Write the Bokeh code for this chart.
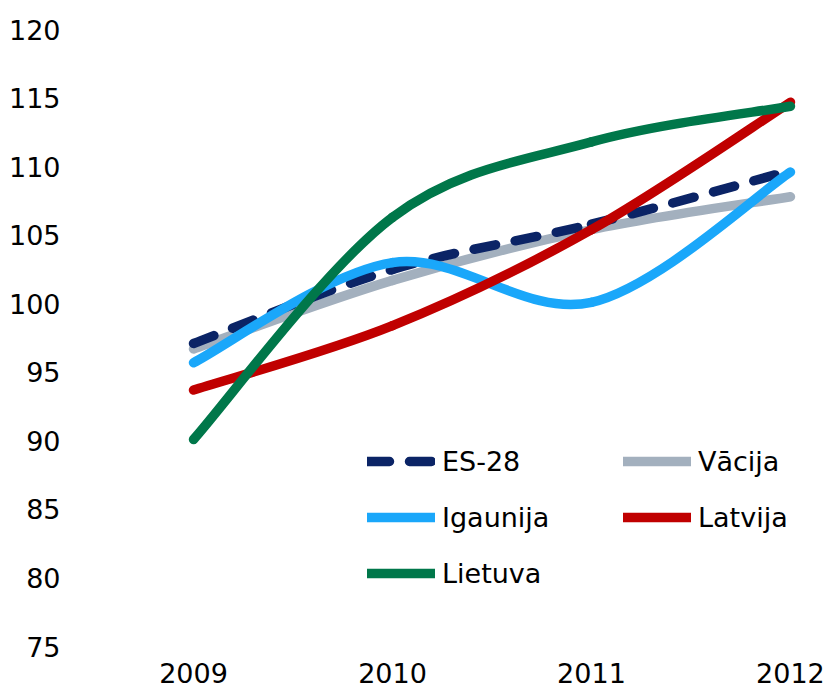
from bokeh.plotting import figure
from bokeh.models import Legend, LegendItem, FixedTicker, Range1d
from bokeh.embed import file_html
from bokeh.resources import INLINE

# ---- data ----
years = [2009, 2010, 2011, 2012]
es28 = [97.1, 102.5, 105.8, 109.7]
vacija = [96.7, 101.7, 105.4, 107.8]
igaunija = [95.7, 103.0, 100.1, 109.6]
latvija = [93.7, 98.4, 105.4, 114.7]
lietuva = [90.1, 106.3, 111.8, 114.4]
y_ticks = [75, 80, 85, 90, 95, 100, 105, 110, 115, 120]
x_ticks = [2009, 2010, 2011, 2012]

# drawing order: grey first, then dashed, then the others
series = [
    ("Vācija", vacija, "#a3b0be", None),
    ("ES-28", es28, "#0b2466", "22 20"),
    ("Igaunija", igaunija, "#1aa7fa", None),
    ("Latvija", latvija, "#c00000", None),
    ("Lietuva", lietuva, "#00774a", None),
]

FONT = "DejaVu Sans"
FS = "27px"

p = figure(width=826, height=691, output_backend="svg", toolbar_location=None,
           x_range=Range1d(2008.432, 2012.141), y_range=Range1d(75, 120),
           min_border_left=80, min_border_right=8, min_border_top=29,
           min_border_bottom=45)
p.outline_line_color = None
p.xgrid.grid_line_color = None
p.ygrid.grid_line_color = None
p.background_fill_color = "white"

for ax in (p.xaxis[0], p.yaxis[0]):
    ax.axis_line_color = None
    ax.major_tick_line_color = None
    ax.minor_tick_line_color = None
    ax.major_label_text_font = FONT
    ax.major_label_text_font_size = FS
    ax.major_label_text_color = "black"
p.xaxis.ticker = FixedTicker(ticks=x_ticks)
p.yaxis.ticker = FixedTicker(ticks=y_ticks)
p.xaxis.major_label_standoff = 10
p.yaxis.major_label_standoff = 14


def smooth_segments(xs, ys):
    n = len(xs)
    x0, y0, x1, y1, cx0, cy0, cx1, cy1 = [], [], [], [], [], [], [], []
    for i in range(n - 1):
        ip = max(i - 1, 0)
        inn = min(i + 2, n - 1)
        x0.append(xs[i]); y0.append(ys[i])
        x1.append(xs[i + 1]); y1.append(ys[i + 1])
        cx0.append(xs[i] + (xs[i + 1] - xs[ip]) / 6.0)
        cy0.append(ys[i] + (ys[i + 1] - ys[ip]) / 6.0)
        cx1.append(xs[i + 1] - (xs[inn] - xs[i]) / 6.0)
        cy1.append(ys[i + 1] - (ys[inn] - ys[i]) / 6.0)
    return dict(x0=x0, y0=y0, x1=x1, y1=y1, cx0=cx0, cy0=cy0, cx1=cx1, cy1=cy1)


renderers = {}
for name, vals, color, dash in series:
    seg = smooth_segments(years, vals)
    kw = dict(line_color=color, line_width=9.5, line_cap="round")
    if dash:
        kw["line_dash"] = dash
    r = p.bezier(**seg, **kw)
    renderers[name] = r


def make_legend(names, x, y):
    items = [LegendItem(label=n, renderers=[renderers[n]]) for n in names]
    lg = Legend(items=items, location=(x, y), orientation="vertical",
                padding=0, margin=0, spacing=20, glyph_width=68, glyph_height=36,
                label_height=36, label_standoff=7, label_text_font=FONT,
                label_text_font_size=FS, label_text_color="black",
                background_fill_alpha=0, border_line_alpha=0)
    p.add_layout(lg)


make_legend(["ES-28", "Igaunija", "Lietuva"], 287, 55)
make_legend(["Vācija", "Latvija"], 543, 111)

open("out.html", "w").write(file_html(p, INLINE))
